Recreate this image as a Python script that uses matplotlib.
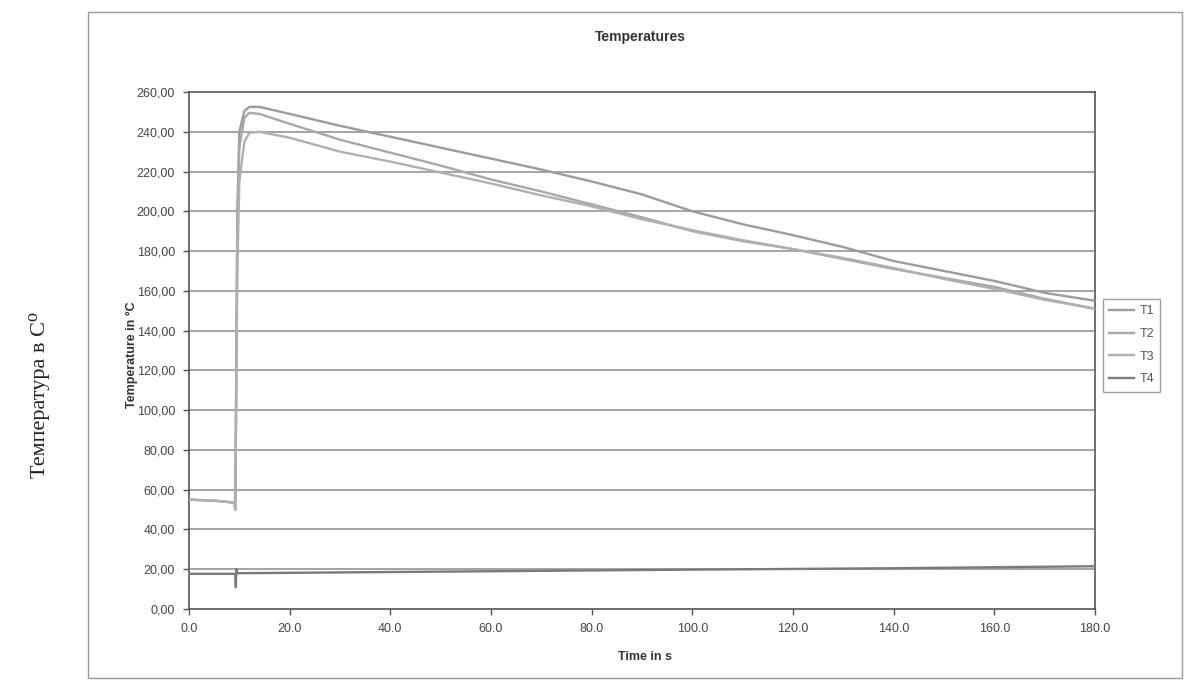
import matplotlib.pyplot as plt
from matplotlib.patches import Rectangle

# Zeitachse (s) fuer T1-T3
t = [0, 5, 9, 9.2, 9.6, 10, 11, 12, 14, 20, 30, 40, 50, 60, 70, 80, 90,
     100, 110, 120, 130, 140, 150, 160, 170, 180]

T1 = [55, 54.5, 53.5, 50, 200, 240, 250.5, 252.5, 252.5, 249, 243, 237.5, 232,
      226.5, 221, 215, 208.5, 200, 193.5, 188, 182, 175, 170, 165, 159, 155]
T2 = [55, 54.5, 53.5, 50, 190, 232, 247, 249.5, 249, 244, 236, 229.5, 223,
      216, 210, 203.5, 197, 190, 185, 181, 176, 171, 166.5, 162, 156, 151]
T3 = [55, 54.5, 53.5, 50, 170, 215, 235, 239.5, 240, 237, 230, 225, 219.5,
      214, 208, 202.5, 196, 190.5, 185.5, 181, 176.5, 171.5, 166, 161, 155.5, 151]

# T4 hat eigene Zeitpunkte (kleiner Ausschlag bei ~9 s)
t4 = [0, 9.2, 9.3, 9.4, 9.5, 20, 60, 100, 140, 180]
T4 = [17.7, 17.7, 11, 20, 18, 18.2, 19, 19.8, 20.5, 21.5]

y_ticks = list(range(0, 261, 20))
x_ticks = list(range(0, 181, 20))

W, H = 1186, 683
fig = plt.figure(figsize=(W / 100, H / 100), dpi=100)
ax = fig.add_axes([189 / W, 1 - 609 / H, (1095 - 189) / W, (609 - 92) / H])

# Rahmen um das ganze Diagramm
fig.patches.append(Rectangle((88 / W, 1 - 678 / H), (1182 - 88) / W, (678 - 12) / H,
                             transform=fig.transFigure, fill=False,
                             edgecolor='#9a9a9a', lw=1))

# Gitterlinien
for yv in y_ticks[1:-1]:
    ax.axhline(yv, color='#8c8c8c', lw=1.1, zorder=1)

ax.plot(t, T1, color='#9c9c9c', lw=1.7, label='T1', zorder=3)
ax.plot(t, T2, color='#a8a8a8', lw=1.7, label='T2', zorder=3)
ax.plot(t, T3, color='#b0b0b0', lw=1.7, label='T3', zorder=3)
ax.plot(t4, T4, color='#7a7a7a', lw=1.7, label='T4', zorder=3)

ax.set_xlim(0, 180)
ax.set_ylim(0, 260)
ax.set_yticks(y_ticks)
ax.set_yticklabels([f"{v:.2f}".replace('.', ',') for v in y_ticks])
ax.set_xticks(x_ticks)
ax.set_xticklabels([f"{v:.1f}" for v in x_ticks])
ax.tick_params(axis='both', labelsize=9, colors='#555555', labelcolor='#444444',
               length=4, width=1, direction='out', pad=6,
               labelfontfamily='Liberation Sans')
for s in ax.spines.values():
    s.set_color('#555555')
    s.set_linewidth(1.2)

leg = ax.legend(loc='center left', bbox_to_anchor=(1.002, 0.51),
                frameon=True, fancybox=False, edgecolor='#888888',
                handlelength=2.0, labelspacing=0.85, borderpad=0.5,
                handletextpad=0.4, prop={'family': 'Liberation Sans', 'size': 9})
for txt in leg.get_texts():
    txt.set_color('#555555')

fig.text(640 / W, 1 - 37 / H, 'Temperatures', ha='center', va='center',
         fontsize=10, fontweight='bold', color='#333333', family='Liberation Sans')
fig.text(132 / W, 1 - 355 / H, 'Temperature in °C', ha='center', va='center',
         rotation=90, fontsize=9, fontweight='bold', color='#333333',
         family='Liberation Sans')
fig.text(645 / W, 1 - 657 / H, 'Time in s', ha='center', va='center',
         fontsize=9, fontweight='bold', color='#333333', family='Liberation Sans')
fig.text(40 / W, 1 - 395 / H, 'Температура в C⁰', ha='center', va='center',
         rotation=90, fontsize=16, color='#222222',
         family=['Liberation Serif', 'DejaVu Serif'])

plt.savefig('out.png', dpi=100)
